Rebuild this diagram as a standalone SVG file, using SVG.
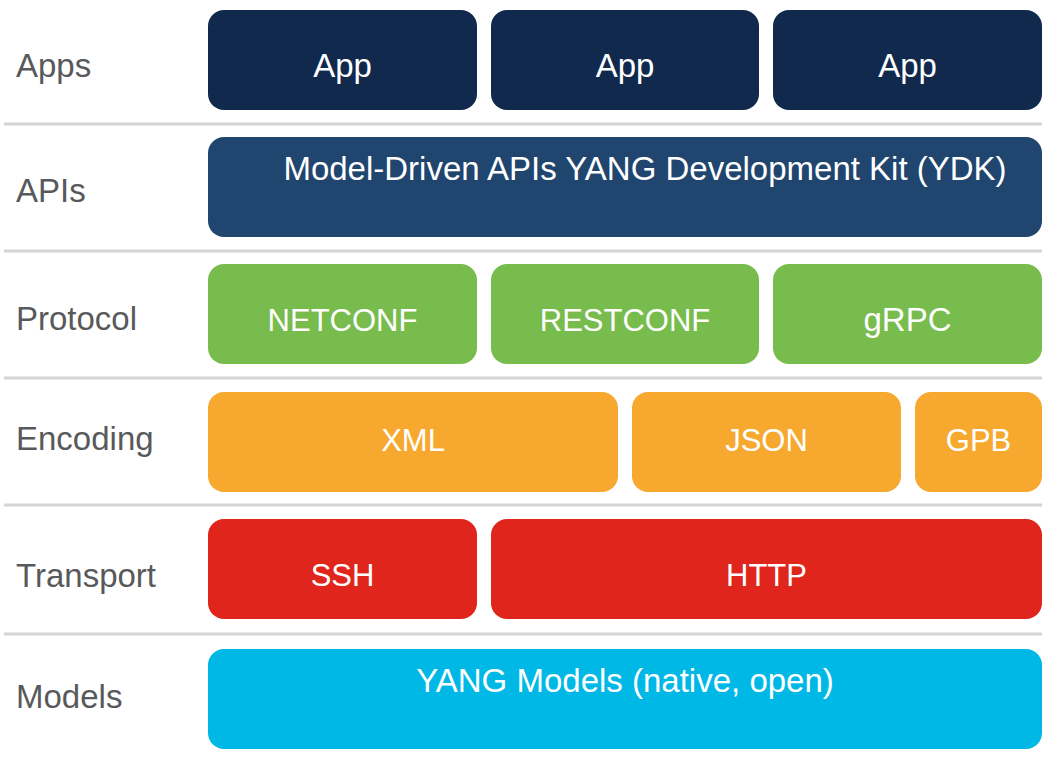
<svg xmlns="http://www.w3.org/2000/svg" width="1050" height="779" viewBox="0 0 1050 779">
<style>
.lbl{font-family:"Liberation Sans",Arial,sans-serif;font-size:33px;fill:#58595b}
.bt{font-family:"Liberation Sans",Arial,sans-serif;font-size:33px;fill:#ffffff;text-anchor:middle}
.cap{font-size:31px}
.sep{stroke:#d4d4d4;stroke-width:3}
.app{fill:#10294d}
.api{fill:#20456f}
.pro{fill:#77bc4c}
.enc{fill:#f6a82f}
.tra{fill:#e0251d}
.mod{fill:#00b8e6}
</style>
<rect width="1050" height="779" fill="#ffffff"/>
<g id="separators">
<line class="sep" x1="4" y1="124" x2="1042" y2="124"/>
<line class="sep" x1="4" y1="251" x2="1042" y2="251"/>
<line class="sep" x1="4" y1="378" x2="1042" y2="378"/>
<line class="sep" x1="4" y1="505" x2="1042" y2="505"/>
<line class="sep" x1="4" y1="634" x2="1042" y2="634"/>
</g>
<g id="labels">
<text class="lbl" x="16" y="77">Apps</text>
<text class="lbl" x="16" y="202">APIs</text>
<text class="lbl" x="16" y="330">Protocol</text>
<text class="lbl" x="16" y="450">Encoding</text>
<text class="lbl" x="16" y="587">Transport</text>
<text class="lbl" x="16" y="708">Models</text>
</g>
<g id="app1"><rect class="app" x="208" y="10" width="269" height="100" rx="16"/><text class="bt" x="342.5" y="77">App</text></g>
<g id="app2"><rect class="app" x="491" y="10" width="268" height="100" rx="16"/><text class="bt" x="625" y="77">App</text></g>
<g id="app3"><rect class="app" x="773" y="10" width="269" height="100" rx="16"/><text class="bt" x="907.5" y="77">App</text></g>
<g id="ydk"><rect class="api" x="208" y="137" width="834" height="100" rx="16"/><text class="bt" x="645" y="180">Model-Driven APIs YANG Development Kit (YDK)</text></g>
<g id="netconf"><rect class="pro" x="208" y="264" width="269" height="100" rx="16"/><text class="bt cap" x="342.5" y="331">NETCONF</text></g>
<g id="restconf"><rect class="pro" x="491" y="264" width="268" height="100" rx="16"/><text class="bt cap" x="625" y="331">RESTCONF</text></g>
<g id="grpc"><rect class="pro" x="773" y="264" width="269" height="100" rx="16"/><text class="bt" x="907.5" y="331">gRPC</text></g>
<g id="xml"><rect class="enc" x="208" y="392" width="410" height="100" rx="16"/><text class="bt cap" x="413" y="451">XML</text></g>
<g id="json"><rect class="enc" x="632" y="392" width="269" height="100" rx="16"/><text class="bt cap" x="766.5" y="451">JSON</text></g>
<g id="gpb"><rect class="enc" x="915" y="392" width="127" height="100" rx="16"/><text class="bt cap" x="978.5" y="451">GPB</text></g>
<g id="ssh"><rect class="tra" x="208" y="519" width="269" height="100" rx="16"/><text class="bt cap" x="342.5" y="586">SSH</text></g>
<g id="http"><rect class="tra" x="491" y="519" width="551" height="100" rx="16"/><text class="bt cap" x="766.5" y="586">HTTP</text></g>
<g id="yang"><rect class="mod" x="208" y="649" width="834" height="100" rx="16"/><text class="bt" x="625" y="692">YANG Models (native, open)</text></g>
<g id="connectors"></g>
</svg>
